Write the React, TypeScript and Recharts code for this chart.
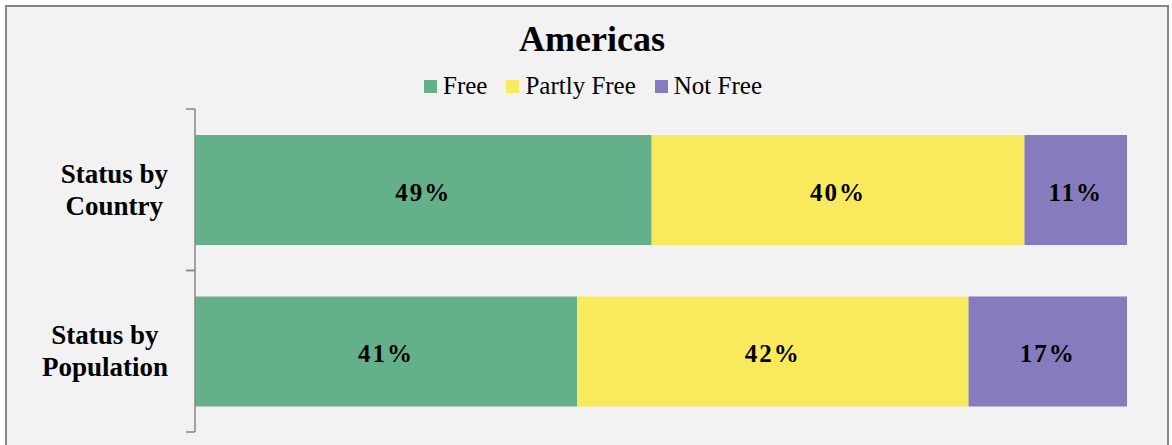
import React from "react";
import { BarChart, Bar, XAxis, YAxis, Legend, LabelList } from "recharts";

// Freedom status shares for the Americas (percent)
const categories = ["Status by Country", "Status by Population"];
const categoryLines = [
  ["Status by", "Country"],
  ["Status by", "Population"],
];
const seriesNames = ["Free", "Partly Free", "Not Free"];
const freeValues = [49, 41];
const partlyFreeValues = [40, 42];
const notFreeValues = [11, 17];

const COLORS = { free: "#64b08a", partly: "#f8ea5c", not: "#867bbd" };
const SERIF = "'Liberation Serif', 'Times New Roman', serif";

const W = 1172;
const H = 445;
const PLOT_LEFT = 195;
const PLOT_TOP = 109;
const PLOT_BOTTOM = 432;
const BAND = (PLOT_BOTTOM - PLOT_TOP) / categories.length;

const data = categories.map((c, i) => ({
  category: c,
  free: freeValues[i],
  partly: partlyFreeValues[i],
  not: notFreeValues[i],
}));

let ctx: CanvasRenderingContext2D | null = null;
function textWidth(text: string, font: string) {
  if (!ctx) ctx = document.createElement("canvas").getContext("2d");
  if (!ctx) return text.length * 12;
  ctx.font = font;
  return ctx.measureText(text).width;
}

function CategoryTick(props: any) {
  const { y, payload } = props;
  const idx = categories.indexOf(payload.value);
  const lines = categoryLines[idx] ?? [payload.value];
  const font = `bold 27px ${SERIF}`;
  const blockW = Math.max(...lines.map((l) => textWidth(l, font)));
  const cx = 168 - blockW / 2;
  const half = BAND / 2;
  return (
    <g>
      <line x1={PLOT_LEFT - 9} x2={PLOT_LEFT} y1={y - half} y2={y - half} stroke="#868686" strokeWidth={1.5} />
      <line x1={PLOT_LEFT - 9} x2={PLOT_LEFT} y1={y + half} y2={y + half} stroke="#868686" strokeWidth={1.5} />
      {lines.map((l, i) => (
        <text
          key={i}
          x={cx}
          y={y - 7 + i * 32}
          textAnchor="middle"
          fontFamily={SERIF}
          fontWeight="bold"
          fontSize={27}
          fill="#000"
        >
          {l}
        </text>
      ))}
    </g>
  );
}

function PctLabel(props: any) {
  const { x, y, width, height, value } = props;
  return (
    <text
      x={x + width / 2}
      y={y + height / 2 + 2}
      textAnchor="middle"
      dominantBaseline="central"
      fontFamily={SERIF}
      fontWeight="bold"
      fontSize={25}
      letterSpacing={2}
      fill="#000"
    >
      {value}%
    </text>
  );
}

function LegendContent(props: any) {
  const items = [...(props.payload ?? [])].sort(
    (a: any, b: any) => seriesNames.indexOf(a.value) - seriesNames.indexOf(b.value)
  );
  return (
    <div
      style={{
        display: "flex",
        justifyContent: "center",
        alignItems: "center",
        fontFamily: SERIF,
        fontSize: 25,
        color: "#000",
        paddingLeft: 14,
      }}
    >
      {items.map((it: any, i: number) => (
        <div key={i} style={{ display: "flex", alignItems: "center", marginRight: i < items.length - 1 ? 19 : 0 }}>
          <span style={{ width: 13, height: 13, background: it.color, marginRight: 6, display: "inline-block" }} />
          <span>{it.value}</span>
        </div>
      ))}
    </div>
  );
}

export default function App() {
  return (
    <div style={{ position: "absolute", left: 0, top: 0, width: W, height: H, overflow: "hidden", background: "#fff" }}>
      <div
        style={{
          position: "absolute",
          left: 5,
          top: 5,
          width: 1164,
          height: 470,
          border: "2px solid #868686",
          background: "#f2f2f2",
          boxSizing: "border-box",
        }}
      />
      <div
        style={{
          position: "absolute",
          left: 0,
          top: 19,
          width: W,
          paddingLeft: 12,
          boxSizing: "border-box",
          textAlign: "center",
          fontFamily: SERIF,
          fontWeight: "bold",
          fontSize: 36,
          lineHeight: "40px",
          color: "#000",
        }}
      >
        Americas
      </div>
      <div style={{ position: "absolute", left: 0, top: 0 }}>
        <BarChart
          width={W}
          height={H}
          data={data}
          layout="vertical"
          margin={{ top: PLOT_TOP, right: W - 1127, bottom: H - PLOT_BOTTOM, left: PLOT_LEFT - 190 }}
        >
          <XAxis type="number" domain={[0, 100]} hide />
          <YAxis
            type="category"
            dataKey="category"
            width={190}
            axisLine={{ stroke: "#868686", strokeWidth: 1.5 }}
            tickLine={false}
            tick={<CategoryTick />}
            interval={0}
          />
          <Legend
            layout="horizontal"
            verticalAlign="middle"
            align="center"
            content={<LegendContent />}
            wrapperStyle={{ top: 72, left: 0, width: W }}
          />
          <Bar dataKey="free" name={seriesNames[0]} stackId="s" fill={COLORS.free} barSize={110} isAnimationActive={false}>
            <LabelList dataKey="free" content={<PctLabel />} />
          </Bar>
          <Bar dataKey="partly" name={seriesNames[1]} stackId="s" fill={COLORS.partly} barSize={110} isAnimationActive={false}>
            <LabelList dataKey="partly" content={<PctLabel />} />
          </Bar>
          <Bar dataKey="not" name={seriesNames[2]} stackId="s" fill={COLORS.not} barSize={110} isAnimationActive={false}>
            <LabelList dataKey="not" content={<PctLabel />} />
          </Bar>
        </BarChart>
      </div>
    </div>
  );
}
